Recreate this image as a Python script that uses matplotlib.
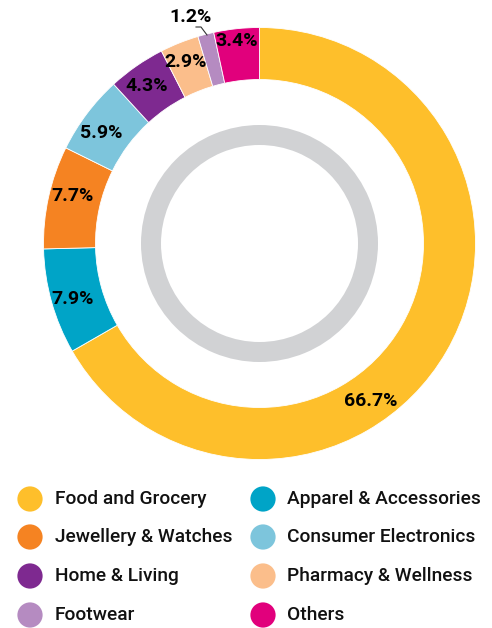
import matplotlib.pyplot as plt
from matplotlib.patches import Wedge

plt.ioff()

Categories = ['Food and Grocery', 'Apparel & Accessories', 'Jewellery & Watches',
              'Consumer Electronics', 'Home & Living', 'Pharmacy & Wellness',
              'Footwear', 'Others']
Shares = [66.7, 7.9, 7.7, 5.9, 4.3, 2.9, 1.2, 3.4]
Colors = ['#FEBF2B', '#00A4C7', '#F58322', '#7DC5DC', '#7E2990', '#FBBE8B',
          '#B58BC1', '#E1007C']

# legend order (two columns, row by row)
LegendOrder = ['Food and Grocery', 'Apparel & Accessories',
               'Jewellery & Watches', 'Consumer Electronics',
               'Home & Living', 'Pharmacy & Wellness',
               'Footwear', 'Others']

W, H = 492, 628
fig = plt.figure(figsize=(W / 100, H / 100), dpi=100)
ax = fig.add_axes([0, 0, 1, 1])

cx, cy = 259.5, H - 243.5
ax.pie(Shares, colors=Colors, startangle=90, counterclock=False,
       radius=216, center=(cx, cy), frame=True,
       wedgeprops=dict(width=52, edgecolor='white', linewidth=0.6))
ax.set_xlim(0, W)
ax.set_ylim(0, H)
ax.set_aspect('equal')
ax.axis('off')

# grey inner ring
ax.add_patch(Wedge((cx, cy), 118.5, 0, 360, width=20, color='#D1D2D4', lw=0))

labfont = dict(family=['Roboto', 'DejaVu Sans'], weight='bold', size=14,
               color='black', ha='center', va='center')
# label positions in pixels (top-left origin)
LabelPos = [(371, 401), (73, 299), (73, 196), (101, 133), (147, 86),
            (186, 62), (191, 17), (237, 41)]
for v, (lx, ly) in zip(Shares, LabelPos):
    ax.text(lx, H - ly, '%.1f%%' % v, **labfont)

# leader for the small Footwear slice
ax.plot([196, 201, 207], [H - 27, H - 27, H - 35], color='#333333', lw=0.8)

# legend
legfont = dict(family=['Roboto', 'DejaVu Sans'], weight='medium', size=13.8,
               color='#111111', ha='left', va='center')
rows = [499, 537, 576, 615]
for i, name in enumerate(LegendOrder):
    col = i % 2
    ry = H - rows[i // 2]
    mx = 30 if col == 0 else 263
    tx = 55 if col == 0 else 287
    ax.scatter([mx], [ry], s=330, color=Colors[Categories.index(name)],
               edgecolors='none')
    ax.text(tx, ry, name, **legfont)

plt.savefig('out.png', dpi=100)
plt.close(fig)
